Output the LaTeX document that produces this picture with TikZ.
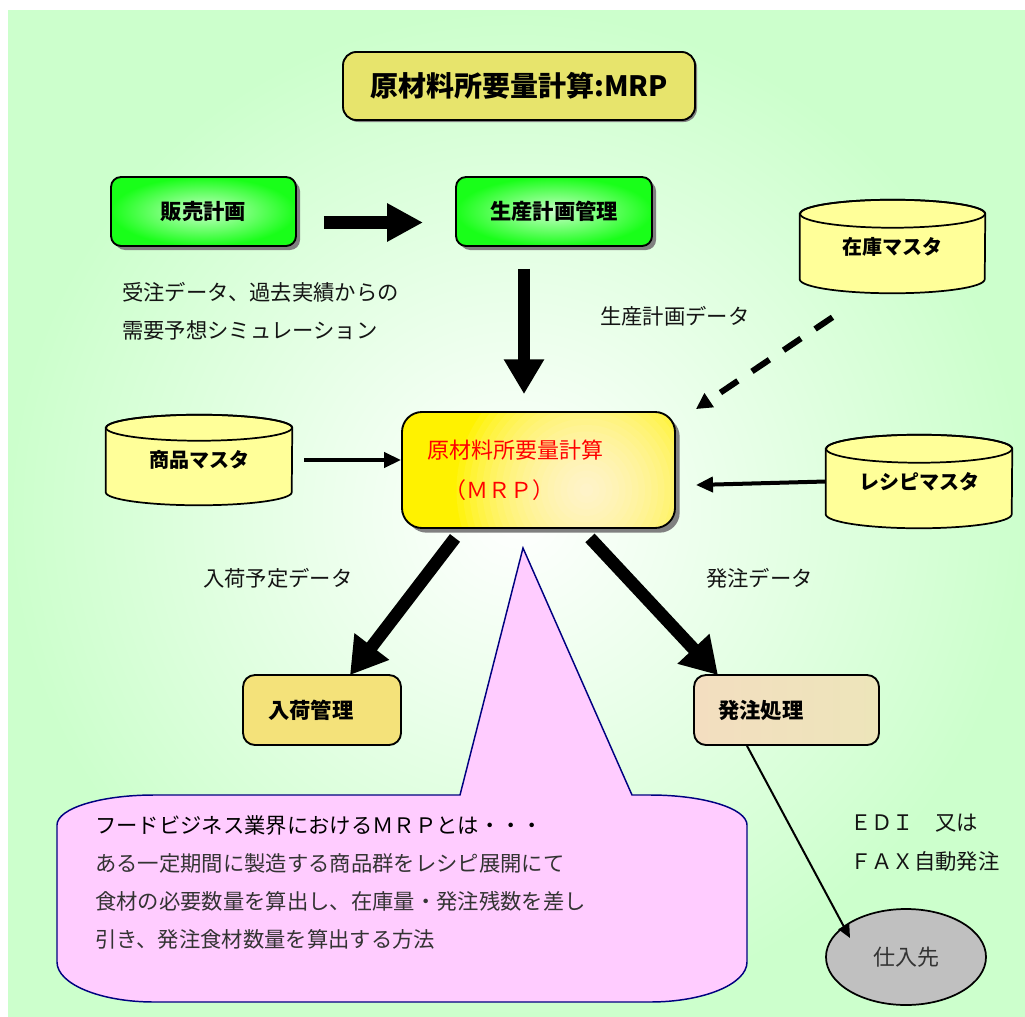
\documentclass[tikz,border=0pt]{standalone}
\usepackage{fontspec}
\setmainfont{Noto Sans CJK JP}
\usetikzlibrary{arrows.meta,shadows,calc,shapes.geometric}
\pgfdeclarelayer{back}
\pgfdeclarelayer{mid}
\pgfsetlayers{back,mid,main}
\definecolor{bggreen}{RGB}{204,255,204}
\definecolor{titlefill}{RGB}{231,228,108}
\definecolor{boxgreen}{RGB}{25,255,25}
\definecolor{boxgreenin}{RGB}{200,255,200}
\definecolor{cylfill}{RGB}{255,255,153}
\definecolor{nyukafill}{RGB}{244,226,122}
\definecolor{hatchuL}{RGB}{243,222,192}
\definecolor{hatchuR}{RGB}{237,229,186}
\definecolor{calloutfill}{RGB}{255,204,255}
\definecolor{calloutdraw}{RGB}{0,0,128}
\definecolor{shadowgray}{RGB}{128,128,128}
\definecolor{textdark}{RGB}{20,20,20}
\definecolor{textgray}{RGB}{51,51,51}
\definecolor{shiirefill}{RGB}{192,192,192}
\newcommand{\drawcyl}[3]{%
  \path[cylline] ($(#1.north west)+(0,#3)$) -- ($(#1.south west)+(0,-#3)$)
    arc[start angle=180,end angle=0,x radius=#2,y radius=#3]
    -- ($(#1.north east)+(0,#3)$)
    arc[start angle=0,end angle=-180,x radius=#2,y radius=#3] -- cycle;
  \draw[line width=1.3pt] ($(#1.north)+(0,#3)$) ellipse[x radius=#2, y radius=#3];}
\begin{document}
\begin{tikzpicture}[x=0.75pt,y=-0.75pt,
  box/.style={draw=black, line width=1.4pt, rounded corners=7.5pt, inner sep=0pt,
    font=\bfseries\fontsize{16pt}{19pt}\selectfont},
  greenbox/.style={box, inner color=boxgreenin, outer color=boxgreen,
    drop shadow={shadow xshift=3pt, shadow yshift=-3pt, fill=shadowgray, opacity=1},
    minimum height=51.75pt},
  cylnode/.style={inner sep=0pt, font=\bfseries\fontsize{15pt}{18pt}\selectfont},
  cylline/.style={draw=black, line width=1.3pt, fill=cylfill},
  bigarrow/.style={line width=9.5pt},
  thinarrow/.style={line width=3pt, -{Triangle[length=12.75pt,width=11.25pt]}},
  datatext/.style={inner sep=0pt, anchor=west, text=textdark, align=left,
    font=\fontsize{16pt}{28.5pt}\selectfont},
]
\useasboundingbox (0,0) rectangle (1025,1017);
\begin{pgfonlayer}{back}
  \fill[white] (0,0) rectangle (1025,1017);
  \shade[inner color=white, outer color=bggreen] (8,10) rectangle (1025,1017);
\end{pgfonlayer}

% title
\node[box, rounded corners=10pt, fill=titlefill, minimum width=264pt, minimum height=51pt,
  font=\bfseries\fontsize{21pt}{24pt}\selectfont,
  drop shadow={shadow xshift=1.5pt, shadow yshift=-1.5pt, fill=shadowgray, opacity=1}]
  (title) at (519,86) {原材料所要量計算:MRP};

% green boxes
\node[greenbox, minimum width=138.75pt] (hanbai) at (203.5,211.5) {販売計画};
\node[greenbox, minimum width=147pt] (seisan) at (554,211.5) {生産計画管理};

% cylinders (nodes)
\node[cylnode, minimum width=138.75pt, minimum height=69.75pt] (zaiko) at (892.5,246.5) {在庫マスタ};
\node[cylnode, minimum width=139.5pt, minimum height=67.5pt] (shohin) at (199,460) {商品マスタ};
\node[cylnode, minimum width=139.5pt, minimum height=69.75pt] (recipe) at (919,481.5) {レシピマスタ};
\begin{pgfonlayer}{mid}
  \drawcyl{zaiko}{92.5}{14}
  \drawcyl{shohin}{93}{13}
  \drawcyl{recipe}{93}{14}
\end{pgfonlayer}

% MRP box
\node[box, rounded corners=15pt, fill=yellow, minimum width=204.75pt, minimum height=87pt,
  drop shadow={shadow xshift=3.5pt, shadow yshift=-3.5pt, fill=shadowgray, opacity=1},
  path picture={\foreach \i in {1,...,20}{\fill[white, opacity=0.08]
     ($(path picture bounding box.center)+(48,20)$) circle ({6.5*\i});}},
  text=red, font=\fontsize{16.5pt}{30pt}\selectfont, align=left, text width=167pt]
  (mrp) at (538.5,470) {原材料所要量計算\\\hspace*{0.8em}（ＭＲＰ）};

% lower boxes
\node[box, rounded corners=9pt, fill=nyukafill, minimum width=118.5pt, minimum height=52.5pt,
  text width=81pt, align=left] (nyuka) at (322,710) {入荷管理};
\node[box, rounded corners=9pt, left color=hatchuL, right color=hatchuR, minimum width=138.75pt,
  minimum height=52.5pt, text width=102.75pt, align=left] (hatchu) at (786.5,710) {発注処理};

% supplier
\node[ellipse, draw=black, line width=1.3pt, fill=shiirefill, minimum width=120pt,
  minimum height=72pt, inner sep=0pt, text=textgray,
  font=\fontsize{16.5pt}{20pt}\selectfont] (shiire) at (906,957) {仕入先};

% callout
\path[draw=calloutdraw, line width=1.1pt, fill=calloutfill]
  (154,795) -- (460,795) -- (523,548) -- (632,795) -- (650,795)
  arc[start angle=270, end angle=360, x radius=97, y radius=30]
  -- (747,962)
  arc[start angle=0, end angle=90, x radius=97, y radius=40]
  -- (154,1002)
  arc[start angle=90, end angle=180, x radius=97, y radius=40]
  -- (57,825)
  arc[start angle=180, end angle=270, x radius=97, y radius=30] -- cycle;
\node[anchor=west, inner sep=0pt, align=left, text=textgray,
  font=\fontsize{16pt}{28.5pt}\selectfont] (callouttext) at (95,882)
  {\textcolor{black}{フードビジネス業界におけるＭＲＰとは・・・}\\
   ある一定期間に製造する商品群をレシピ展開にて\\
   食材の必要数量を算出し、在庫量・発注残数を差し\\
   引き、発注食材数量を算出する方法};

% texts
\node[datatext] (juchu) at (122,311) {受注データ、過去実績からの\\需要予想シミュレーション};
\node[datatext] (seisandata) at (600,316) {生産計画データ};
\node[datatext] (nyukadata) at (203,578) {入荷予定データ};
\node[datatext] (hatchudata) at (706,578) {発注データ};
\node[datatext, font=\fontsize{16pt}{29.25pt}\selectfont] (edi) at (850,842.5) {ＥＤＩ　又は\\ＦＡＸ自動発注};

% connectors
\draw[bigarrow, -{Triangle[length=27pt,width=27pt]}]
  ([shift={(27,11)}]hanbai.east) -- ([shift={(-32,11)}]seisan.west);
\draw[bigarrow, -{Triangle[length=26pt,width=28.5pt]}]
  ([shift={(-30,22)}]seisan.south) -- ([shift={(-14.5,-17)}]mrp.north);
\draw[line width=4.5pt, dash pattern=on 15.75pt off 12.75pt, -{Triangle[length=12pt,width=12pt]}]
  ([shift={(-60,24)}]zaiko.south) -- ([shift={(20,-2)}]mrp.north east);
\draw[thinarrow] ([xshift=9pt]shohin.east) -- (shohin.east -| mrp.west);
\draw[thinarrow] (recipe.west) -- ([shift={(20,15)}]mrp.east);
\draw[bigarrow, -{Triangle[length=27pt,width=31pt]}]
  ([shift={(-83.5,9)}]mrp.south) -- ([shift={(28,1)}]nyuka.north);
\draw[bigarrow, -{Triangle[length=27pt,width=31pt]}]
  ([shift={(51.5,9)}]mrp.south) -- ([shift={(-68.5,1)}]hatchu.north);
\draw[line width=1.5pt, -{Triangle[length=10pt,width=9pt]}]
  ([xshift=-29.6pt]hatchu.south) -- ([shift={(-56,-19)}]shiire.center);
\end{tikzpicture}
\end{document}
